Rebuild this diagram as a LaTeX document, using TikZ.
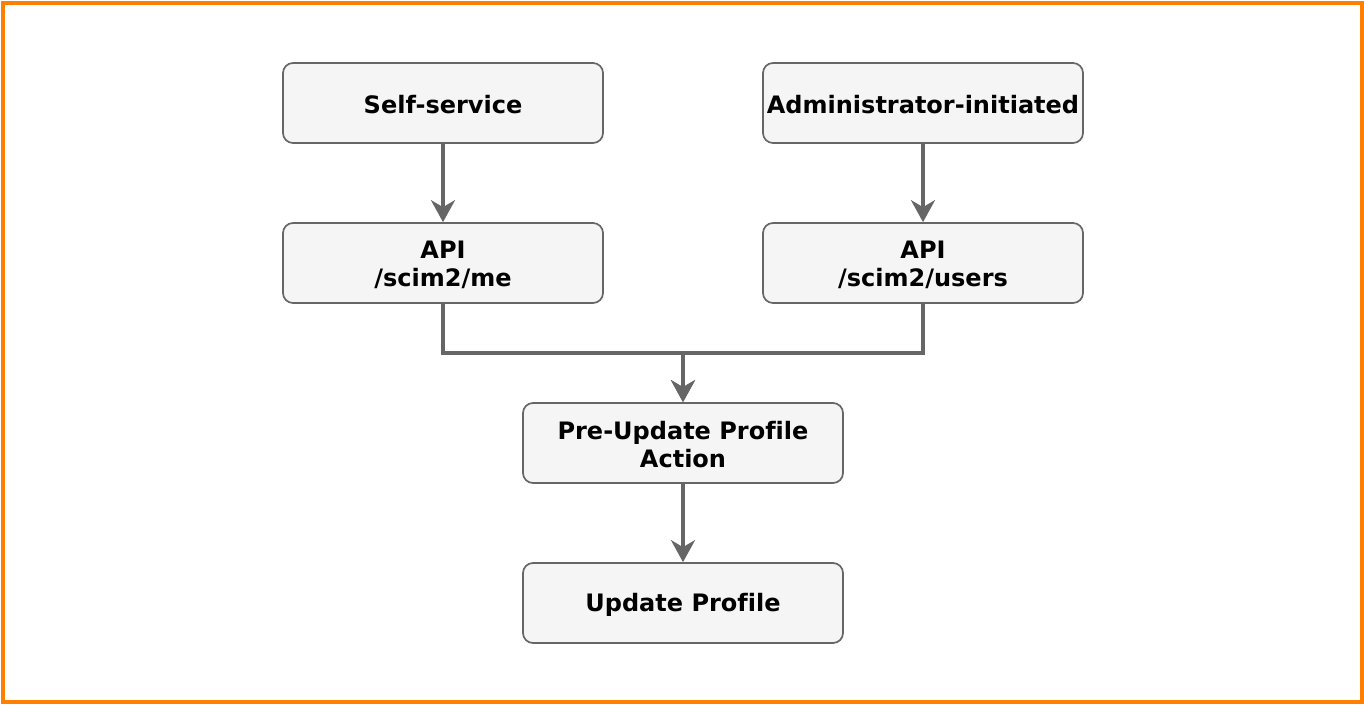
\documentclass[tikz,border=0pt]{standalone}
\usepackage{fontspec}
\setmainfont[Ligatures={NoCommon}]{DejaVu Sans}
\usetikzlibrary{arrows.meta}
\definecolor{boxfill}{HTML}{F5F5F5}
\definecolor{boxdraw}{HTML}{666666}
\definecolor{frame}{HTML}{FF8000}
\begin{document}
\begin{tikzpicture}[x=1pt,y=-1pt,
  box/.style={draw=boxdraw, fill=boxfill, line width=1.7pt, rounded corners=10pt,
    minimum width=320pt, minimum height=80pt, inner sep=0pt},
  lbl/.style={inner sep=0pt, align=center,
    font=\fontsize{24pt}{28pt}\selectfont\bfseries},
  conn/.style={draw=boxdraw, line width=3.4pt, -{Stealth[length=22pt,width=24pt,inset=7pt]}}]
\useasboundingbox (0,0) rectangle (1364,704);
\draw[frame, line width=4pt] (2.5,2.5) rectangle (1361.5,701.5);
\node[box] (self) at (443,103) {};
\node[box] (admin) at (923,103) {};
\node[box] (apime) at (443,263) {};
\node[box] (apiusers) at (923,263) {};
\node[box] (pre) at (683,443) {};
\node[box] (upd) at (683,603) {};
\node[lbl] (selft) at ([yshift=-2pt]self.center) {Self-service};
\node[lbl] (admint) at ([yshift=-2pt]admin.center) {Administrator-initiated};
\node[lbl] (apimet) at ([yshift=-2pt]apime.center) {API\\/scim2/me};
\node[lbl] (apiuserst) at ([yshift=-2pt]apiusers.center) {API\\/scim2/users};
\node[lbl] (pret) at ([yshift=-2pt]pre.center) {Pre-Update Profile\\Action};
\node[lbl] (updt) at ([yshift=-2pt]upd.center) {Update Profile};
\coordinate (join) at (683,353);
\draw[conn] (self) -- (apime);
\draw[conn] (admin) -- (apiusers);
\draw[conn] (apime.south) |- (join) -- (pre.north);
\draw[conn] (apiusers.south) |- (join) -- (pre.north);
\draw[conn] (pre) -- (upd);
\end{tikzpicture}
\end{document}
